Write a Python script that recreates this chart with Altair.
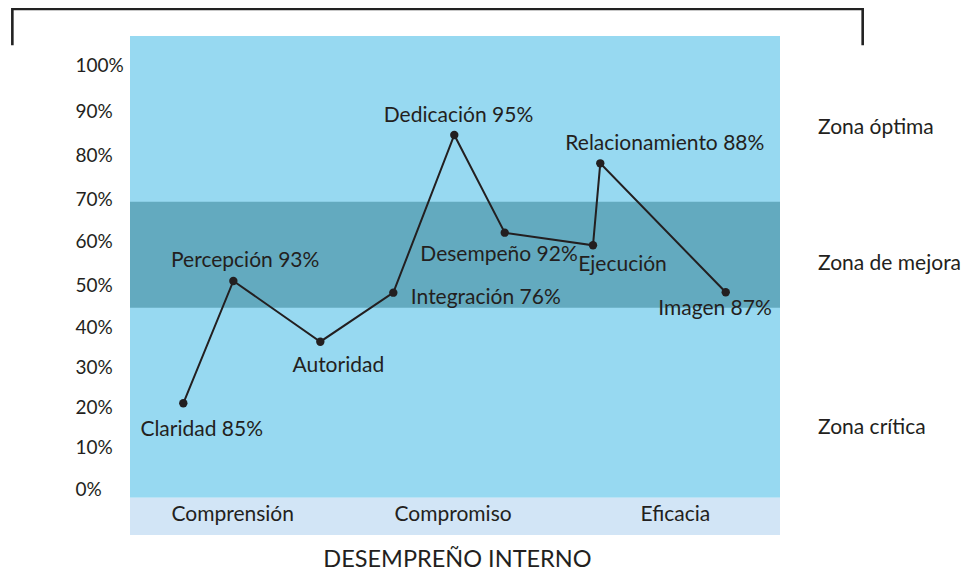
import altair as alt
import pandas as pd

# ---- data ----
etiquetas = ["Claridad 85%", "Percepción 93%", "Autoridad", "Integración 76%",
             "Dedicación 95%", "Desempeño 92%", "Ejecución", "Relacionamiento 88%",
             "Imagen 87%"]
punto_x = [8.2, 15.9, 29.28, 40.51, 49.89, 57.65, 71.23, 72.35, 91.65]
punto_y = [21.05, 51.03, 36.45, 48.29, 84.62, 62.11, 59.18, 78.11, 48.38]
etiqueta_x = [11.03, 17.72, 32.05, 54.74, 50.54, 56.77, 75.77, 82.28, 90.0]
etiqueta_y = [14.5, 55.48, 30.38, 47.02, 89.1, 57.03, 54.57, 82.54, 44.48]

zonas = ["Zona óptima", "Zona de mejora", "Zona crítica"]
zona_y = [86.35, 54.91, 15.0]
zona_x = [105.85, 105.85, 105.85]

categorias = ["Comprensión", "Compromiso", "Eficacia"]
categoria_x = [15.8, 49.7, 83.9]
categoria_y = [-6.27, -6.27, -6.27]

titulo = ["DESEMPREÑO INTERNO"]
titulo_x = [50.38]
titulo_y = [-17.04]

bandas_nombre = ["fondo", "mejora", "franja"]
bandas_y = [-2.1, 44.71, -11.08]
bandas_y2 = [106.49, 69.37, -2.1]
bandas_color = ["#97d9f1", "#63aabf", "#d2e5f6"]

marco_x = [-18.1, -18.1, 112.72, 112.72]
marco_y = [104.75, 112.37, 112.37, 104.75]

ticks_y = [0, 10, 20, 30, 40, 50, 60, 70, 80, 90, 100]
ticks_pix = [453, 411.5, 371.5, 331.5, 291.5, 249.5, 205.7, 163, 119, 75.7, 29.8]

TXT = "#231f20"
FONT = "Lato"

puntos = pd.DataFrame({"etiqueta": etiquetas, "x": punto_x, "y": punto_y,
                       "orden": list(range(len(etiquetas)))})
rotulos = pd.DataFrame({"etiqueta": etiquetas, "x": etiqueta_x, "y": etiqueta_y})
zonas_df = pd.DataFrame({"t": zonas, "x": zona_x, "y": zona_y})
cat_df = pd.DataFrame({"t": categorias, "x": categoria_x, "y": categoria_y})
tit_df = pd.DataFrame({"t": titulo, "x": titulo_x, "y": titulo_y})
bandas = pd.DataFrame({"b": bandas_nombre, "x": [0, 0, 0], "x2": [100, 100, 100],
                       "y": bandas_y, "y2": bandas_y2, "c": bandas_color})
marco = pd.DataFrame({"x": marco_x, "y": marco_y, "o": [0, 1, 2, 3]})

xs = alt.Scale(domain=[0, 100], nice=False, zero=False)
ys = alt.Scale(domain=ticks_y, range=ticks_pix, nice=False, zero=False)
yaxis = alt.Axis(title=None, values=ticks_y, labelExpr="datum.value + '%'",
                 labelAlign="left", labelBaseline="middle", labelPadding=55,
                 ticks=False, tickSize=0, domain=False, grid=False,
                 labelFont=FONT, labelFontSize=19, labelColor=TXT)


def X(f):
    return alt.X(f, type="quantitative", scale=xs, axis=None)


def Y(f):
    return alt.Y(f, type="quantitative", scale=ys, axis=yaxis)


capa_bandas = alt.Chart(bandas).mark_rect().encode(
    x=X("x"), x2="x2", y=Y("y"), y2="y2",
    color=alt.Color("c:N", scale=None))

capa_linea = alt.Chart(puntos).mark_line(color=TXT, strokeWidth=2).encode(
    x=X("x"), y=Y("y"), order="orden:Q")

capa_puntos = alt.Chart(puntos).mark_circle(color=TXT, size=70, opacity=1).encode(
    x=X("x"), y=Y("y"))

capa_rotulos = alt.Chart(rotulos).mark_text(font=FONT, fontSize=21, color=TXT,
                                            align="center", baseline="middle").encode(
    x=X("x"), y=Y("y"), text="etiqueta:N")

capa_zonas = alt.Chart(zonas_df).mark_text(font=FONT, fontSize=21, color=TXT,
                                           align="left", baseline="middle").encode(
    x=X("x"), y=Y("y"), text="t:N")

capa_cat = alt.Chart(cat_df).mark_text(font=FONT, fontSize=21, color=TXT,
                                       align="center", baseline="middle").encode(
    x=X("x"), y=Y("y"), text="t:N")

capa_tit = alt.Chart(tit_df).mark_text(font=FONT, fontSize=23.5, color=TXT,
                                       align="center", baseline="middle").encode(
    x=X("x"), y=Y("y"), text="t:N")

capa_marco = alt.Chart(marco).mark_line(color="#222222", strokeWidth=2.6,
                                        strokeCap="square").encode(
    x=X("x"), y=Y("y"), order="o:Q")

chart = alt.layer(capa_bandas, capa_linea, capa_puntos, capa_rotulos, capa_zonas,
                  capa_cat, capa_tit, capa_marco).properties(
    width=650, height=499,
    autosize=alt.AutoSizeParams(type="none"),
    padding={"left": 122, "top": 28, "right": 184, "bottom": 39},
    background="white",
).configure_view(stroke=None)

chart.save("out.html", embed_options={"renderer": "svg", "actions": False})
